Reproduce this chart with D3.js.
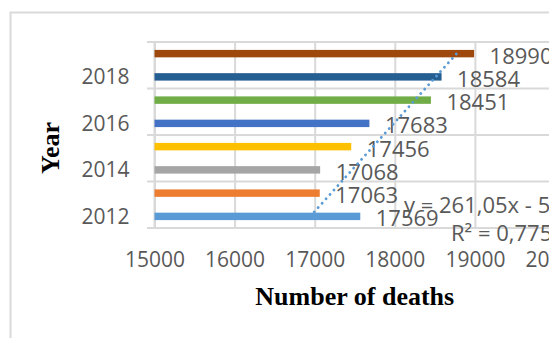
<!DOCTYPE html>
<html>
<head>
<meta charset="utf-8">
<script src="https://cdn.jsdelivr.net/npm/d3@7"></script>
<style>
  html, body { margin: 0; padding: 0; background: #fff; overflow: hidden; }
  svg { display: block; }
</style>
</head>
<body>
<svg id="chart" width="549" height="338"></svg>
<script>
// Deaths per year
const years = [2012, 2013, 2014, 2015, 2016, 2017, 2018, 2019];
const deaths = [17569, 17063, 17068, 17456, 17683, 18451, 18584, 18990];
const barColors = ["#5B9BD5", "#ED7D31", "#A5A5A5", "#FFC000", "#4472C4", "#70AD47", "#255E91", "#9E480E"];
const xTicks = [15000, 16000, 17000, 18000, 19000, 20000];
const yearLabels = [2012, 2014, 2016, 2018];

const svg = d3.select("#chart");
const W = 549, H = 338;
const plot = { left: 154.5, right: 555, top: 42, bottom: 228 };
const grid = "#d9d9d9";
const labelFont = "'Open Sans', 'Liberation Sans', sans-serif";
const titleFont = "'Liberation Serif', 'Times New Roman', serif";

svg.append("rect").attr("width", W).attr("height", H).attr("fill", "#fff");

// chart area frame
svg.append("rect")
  .attr("x", 10.5).attr("y", 12.5)
  .attr("width", 700).attr("height", 500)
  .attr("fill", "none").attr("stroke", grid).attr("stroke-width", 2);

const x = d3.scaleLinear().domain([15000, 20000]).range([plot.left, plot.right]);
const y = d3.scaleBand().domain(years.slice().reverse())
  .range([plot.top, plot.bottom]).paddingInner(0.68).paddingOuter(0.34);
const step = y.step();

// vertical gridlines
svg.append("g")
  .attr("transform", `translate(0,${plot.bottom})`)
  .call(d3.axisBottom(x).tickValues(xTicks).tickSize(-(plot.bottom - plot.top)).tickFormat(""))
  .call(g => g.select(".domain").remove())
  .call(g => g.selectAll("line").attr("stroke", grid).attr("stroke-width", 2));

// horizontal gridlines every two categories, with outside tick marks
const boundaries = [2019, 2017, 2015, 2013].map(yr => y(yr) + y.bandwidth() / 2 - step / 2)
  .concat([y(2012) + y.bandwidth() / 2 + step / 2]);
svg.append("g").selectAll("line").data(boundaries).join("line")
  .attr("x1", plot.left - 7.5).attr("x2", plot.right)
  .attr("y1", d => d).attr("y2", d => d)
  .attr("stroke", grid).attr("stroke-width", 2);

// category axis line
svg.append("line")
  .attr("x1", plot.left).attr("x2", plot.left)
  .attr("y1", plot.top).attr("y2", plot.bottom)
  .attr("stroke", grid).attr("stroke-width", 2);

// bars
svg.append("g").selectAll("rect").data(years).join("rect")
  .attr("x", x(15000))
  .attr("y", (d) => y(d))
  .attr("width", (d, i) => x(deaths[i]) - x(15000))
  .attr("height", y.bandwidth())
  .attr("fill", (d, i) => barColors[i]);

// linear trendline (least squares over year)
const n = years.length;
const mx = d3.mean(years), my = d3.mean(deaths);
const sxy = d3.sum(years, (d, i) => (d - mx) * (deaths[i] - my));
const sxx = d3.sum(years, d => (d - mx) ** 2);
const slope = sxy / sxx;
const intercept = my - slope * mx;
const sst = d3.sum(deaths, v => (v - my) ** 2);
const r2 = (slope * slope * sxx) / sst;
const fit = yr => slope * yr + intercept;

// data labels
svg.append("g").selectAll("text").data(years).join("text")
  .attr("x", (d, i) => x(deaths[i]) + 15.5)
  .attr("y", d => y(d) + y.bandwidth() / 2 + 1)
  .attr("dominant-baseline", "central")
  .attr("font-family", labelFont).attr("font-size", 22)
  .attr("fill", "#595959")
  .text((d, i) => deaths[i]);

const line = d3.line()
  .x(d => x(fit(d)))
  .y(d => y(d) + y.bandwidth() / 2);
svg.append("path")
  .datum([years[0], years[n - 1]])
  .attr("d", line)
  .attr("fill", "none")
  .attr("stroke", "#5B9BD5")
  .attr("stroke-width", 2.8)
  .attr("stroke-linecap", "round")
  .attr("stroke-dasharray", "0.1 5.8");

// year labels
svg.append("g")
  .attr("transform", `translate(${plot.left},0)`)
  .call(d3.axisLeft(y).tickValues(yearLabels).tickSize(0).tickPadding(25))
  .call(g => g.select(".domain").remove())
  .call(g => g.selectAll("text")
    .attr("font-family", labelFont).attr("font-size", 21)
    .attr("fill", "#595959").attr("dy", "0.36em"));

// value labels
svg.append("g")
  .attr("transform", `translate(0,${plot.bottom})`)
  .call(d3.axisBottom(x).tickValues(xTicks).tickSize(0).tickPadding(0).tickFormat(d3.format("d")))
  .call(g => g.select(".domain").remove())
  .call(g => g.selectAll("text")
    .attr("font-family", labelFont).attr("font-size", 21)
    .attr("fill", "#595959").attr("y", 31.5).attr("dy", "0.36em"));

// trendline equation
const fmt = v => d3.format(".2f")(v).replace(".", ",");
const eq = `y = ${fmt(slope)}x ${intercept < 0 ? "-" : "+"} ${Math.round(Math.abs(intercept))}`;
const rsq = `R² = ${d3.format(".4f")(r2).replace(".", ",")}`;
svg.append("text")
  .attr("x", 404).attr("y", 204).attr("dominant-baseline", "central")
  .attr("font-family", labelFont).attr("font-size", 22).attr("fill", "#595959")
  .text(eq);
svg.append("text")
  .attr("x", 451).attr("y", 231.5).attr("dominant-baseline", "central")
  .attr("font-family", labelFont).attr("font-size", 22).attr("fill", "#595959")
  .text(rsq);

// axis titles
svg.append("text")
  .attr("x", (plot.left + plot.right) / 2).attr("y", 305)
  .attr("text-anchor", "middle")
  .attr("font-family", titleFont).attr("font-weight", "bold").attr("font-size", 26)
  .attr("fill", "#000")
  .text("Number of deaths");
svg.append("text")
  .attr("transform", "translate(59,148) rotate(-90)")
  .attr("text-anchor", "middle")
  .attr("font-family", titleFont).attr("font-weight", "bold").attr("font-size", 26)
  .attr("fill", "#000")
  .text("Year");
</script>
</body>
</html>
